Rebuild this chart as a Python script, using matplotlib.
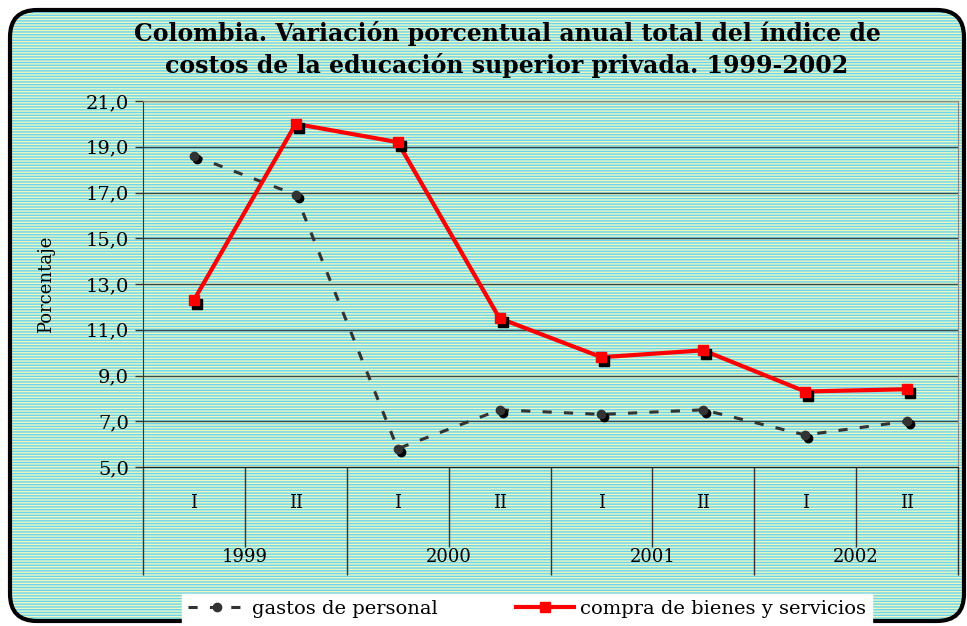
import matplotlib.pyplot as plt
import matplotlib.transforms as mtransforms
from matplotlib.patches import FancyBboxPatch
from matplotlib.lines import Line2D

semestres = ["I", "II", "I", "II", "I", "II", "I", "II"]
anios = ["1999", "2000", "2001", "2002"]
gastos_personal = [18.6, 16.9, 5.8, 7.5, 7.3, 7.5, 6.4, 7.0]
compra_bienes = [12.3, 20.0, 19.2, 11.5, 9.8, 10.1, 8.3, 8.4]
y_ticks = [5, 7, 9, 11, 13, 15, 17, 19, 21]

W, H = 967, 626
fig = plt.figure(figsize=(W / 100, H / 100), dpi=100)

# striped background with rounded black border
box = dict(boxstyle="round,pad=0,rounding_size=0.028",
           transform=fig.transFigure, mutation_aspect=W / H)
bg = FancyBboxPatch((10 / W, 5 / H), (964 - 10) / W, 1 - 15 / H,
                    facecolor="#eef8c0", edgecolor="#6cd4ee", linewidth=0,
                    hatch="------", zorder=-10, **box)
fig.patches.append(bg)
border = FancyBboxPatch((10 / W, 5 / H), (964 - 10) / W, 1 - 15 / H,
                        facecolor="none", edgecolor="black", linewidth=3,
                        zorder=-9, **box)
fig.patches.append(border)

ax = fig.add_axes([143 / W, (H - 467) / H, (958 - 143) / W, (467 - 101) / H])
ax.patch.set_alpha(0)

x = list(range(len(semestres)))
ax.plot(x, gastos_personal, color="#333333", lw=2.2, ls=(0, (3, 4)), zorder=3)
ax.plot(x, compra_bienes, color="#ff0000", lw=3, zorder=4)

# marker shadows
sh1 = mtransforms.offset_copy(ax.transData, fig=fig, x=3, y=-4, units="dots")
sh2 = mtransforms.offset_copy(ax.transData, fig=fig, x=3, y=-3, units="dots")
ax.plot(x, compra_bienes, ls="none", marker="s", ms=7, color="black",
        transform=sh1, zorder=4)
ax.plot(x, compra_bienes, ls="none", marker="s", ms=7, color="#ff0000", zorder=5)
ax.plot(x, gastos_personal, ls="none", marker="o", ms=6, color="black",
        transform=sh2, zorder=3)
ax.plot(x, gastos_personal, ls="none", marker="o", ms=6, color="#333333", zorder=3)

ax.set_xlim(-0.5, len(semestres) - 0.5)
ax.set_ylim(5, 21)
ax.set_yticks(y_ticks)
ax.set_yticklabels([f"{v:.1f}".replace(".", ",") for v in y_ticks],
                   family="DejaVu Serif", fontsize=14)
ax.tick_params(axis="y", length=6, width=1, color="#333333", pad=4)
ax.set_xticks([])
ax.yaxis.grid(True, color="#3a4a4a", lw=1)
ax.set_axisbelow(True)
for s in ["top", "right"]:
    ax.spines[s].set_color("#888888")
ax.spines["left"].set_color("#333333")
ax.spines["bottom"].set_color("#222222")

ax.set_ylabel("Porcentaje", family="DejaVu Serif", fontsize=13, labelpad=22)

# two-level category axis
xt = ax.get_xaxis_transform()
ax.vlines([0.5 + 2 * i for i in range(4)], 0, -0.219, transform=xt,
          color="#333333", lw=1, clip_on=False)
ax.vlines([-0.5 + 2 * i for i in range(5)], 0, -0.295, transform=xt,
          color="#333333", lw=1, clip_on=False)
for i, s in enumerate(semestres):
    ax.text(i, -0.098, s, transform=xt, ha="center", va="center",
            family="DejaVu Serif", fontsize=13)
for i, a in enumerate(anios):
    ax.text(2 * i + 0.5, -0.246, a, transform=xt, ha="center", va="center",
            family="DejaVu Serif", fontsize=13)

fig.text(507 / W, 1 - 33 / H,
         "Colombia. Variación porcentual anual total del índice de",
         ha="center", va="center", family="DejaVu Serif", weight="bold",
         fontsize=17)
fig.text(507 / W, 1 - 65 / H,
         "costos de la educación superior privada. 1999-2002",
         ha="center", va="center", family="DejaVu Serif", weight="bold",
         fontsize=17)

handles = [
    Line2D([], [], color="#333333", lw=2.2, ls=(0, (3, 4)), marker="o", ms=6),
    Line2D([], [], color="#ff0000", lw=3, marker="s", ms=7),
]
leg = fig.legend(handles, ["gastos de personal", "compra de bienes y servicios"],
                 loc="center", bbox_to_anchor=(527 / W, 1 - 609 / H), ncol=2,
                 frameon=True, fancybox=False, edgecolor="white",
                 facecolor="white", framealpha=1,
                 prop={"family": "DejaVu Serif", "size": 14},
                 handlelength=3, columnspacing=4, borderpad=0.3,
                 handletextpad=0.3)

fig.savefig("out.png", dpi=100)
